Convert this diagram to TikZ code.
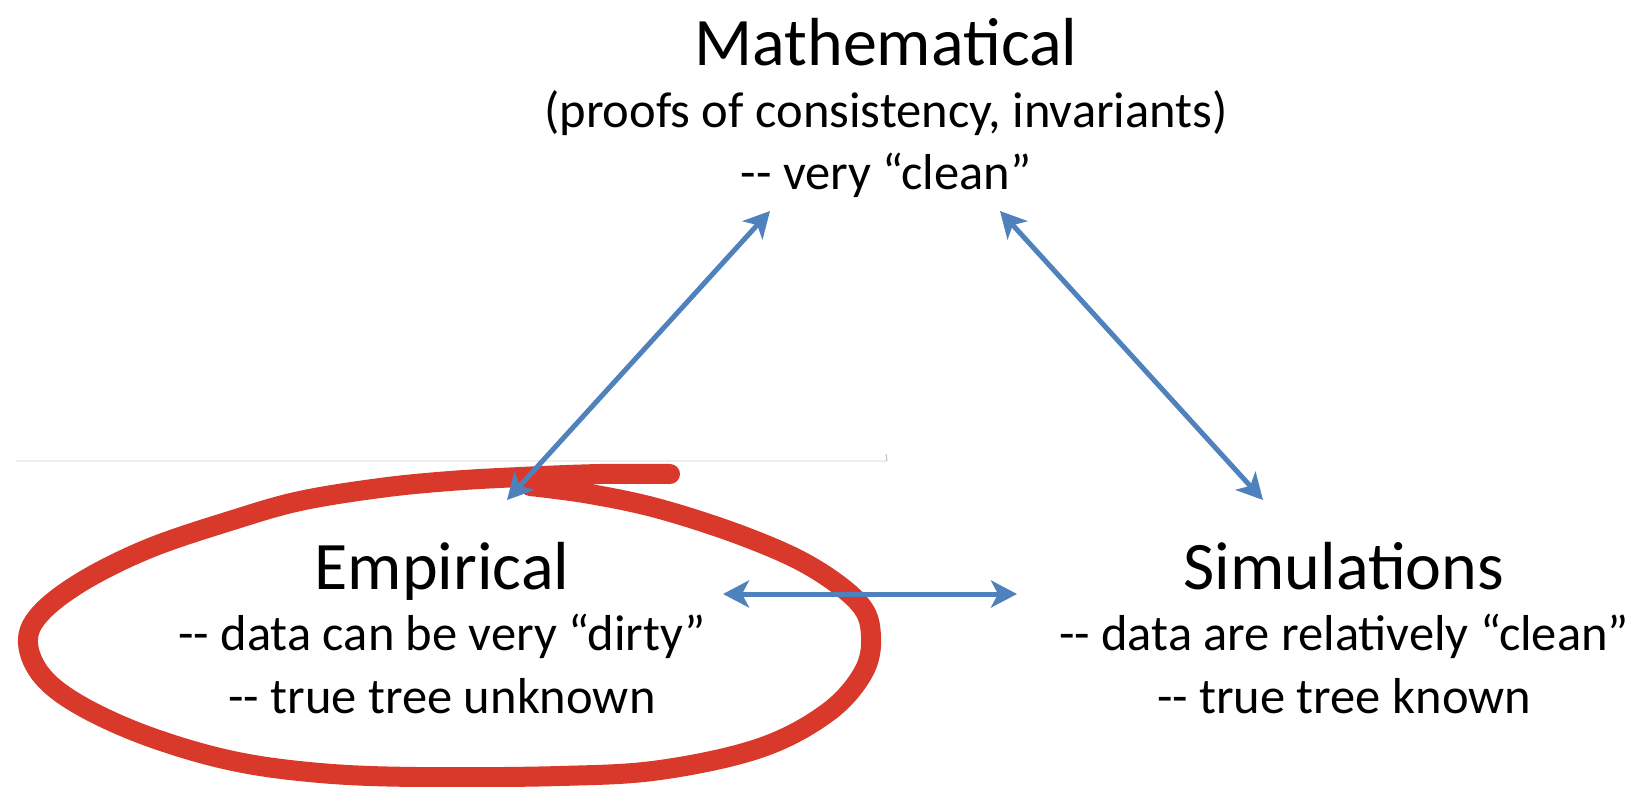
\documentclass[tikz,border=0pt]{standalone}
\usepackage{fontspec}
\setmainfont{Carlito}
\usetikzlibrary{arrows.meta}
\definecolor{arrowblue}{RGB}{79,129,189}
\definecolor{markred}{RGB}{217,57,43}
\newcommand{\titlesize}{\fontsize{68}{80}\selectfont}
\newcommand{\subsize}{\fontsize{50.5}{60}\selectfont}
\tikzset{
  titletext/.style={anchor=base, inner sep=0pt, font=\titlesize},
  subtext/.style={anchor=base, inner sep=0pt, font=\subsize},
  link/.style={draw=arrowblue, line width=5pt,
    {Stealth[length=26pt,width=27pt,inset=7pt]}-{Stealth[length=26pt,width=27pt,inset=7pt]}},
  redmark/.style={draw=markred, line width=20pt, line cap=round, line join=round},
  edgeline/.style={draw=black!7, line width=1.2pt}
}
\begin{document}
\begin{tikzpicture}[x=1pt,y=-1pt]
\fill[white] (0,0) rectangle (1636,787);
\useasboundingbox (0,0) rectangle (1636,787);

% faint edge of the pasted picture
\coordinate (edgeA) at (16,461);
\coordinate (edgeB) at (887,461);
\coordinate (tickA) at (886,454);
\draw[edgeline] (edgeA) -- (edgeB);
\draw[draw=black!25, line width=1pt] (tickA) -- (edgeB);

% red hand-drawn loop
\draw[redmark] plot[smooth, tension=0.6] coordinates {
  (670,474) (600,474) (520,477) (450,481) (380,488) (300,501) (233,520)
  (150,548) (83,581) (40,614) (28,643) (43,677) (83,707) (150,737)
  (233,761) (320,773) (417,777) (560,776) (660,770) (760,748) (827,713)
  (863,673) (871,636) (859,603) (810,566) (743,536) (660,509) (590,494) (530,486)};

% texts
\node[titletext] (math) at (886,65) {Mathematical};
\node[subtext] (mathA) at (886,127) {(proofs of consistency, invariants)};
\node[subtext] (mathB) at (886,189) {-{}- very “clean”};

\node[titletext] (emp) at (442,589) {Empirical};
\node[subtext] (empA) at (442,650) {-{}- data can be very “dirty”};
\node[subtext] (empB) at (442,713) {-{}- true tree unknown};

\node[titletext] (sim) at (1344,589) {Simulations};
\node[subtext] (simA) at (1344,650) {-{}- data are relatively “clean”};
\node[subtext] (simB) at (1344,713) {-{}- true tree known};

% connectors
\coordinate (mL) at (770,211);
\coordinate (eT) at (507,500);
\coordinate (mR) at (1000,211);
\coordinate (sT) at (1263,500);
\coordinate (eR) at (723,594);
\coordinate (sL) at (1017,594);
\draw[link] (mL) -- (eT);
\draw[link] (mR) -- (sT);
\draw[link] (eR) -- (sL);
\end{tikzpicture}
\end{document}
